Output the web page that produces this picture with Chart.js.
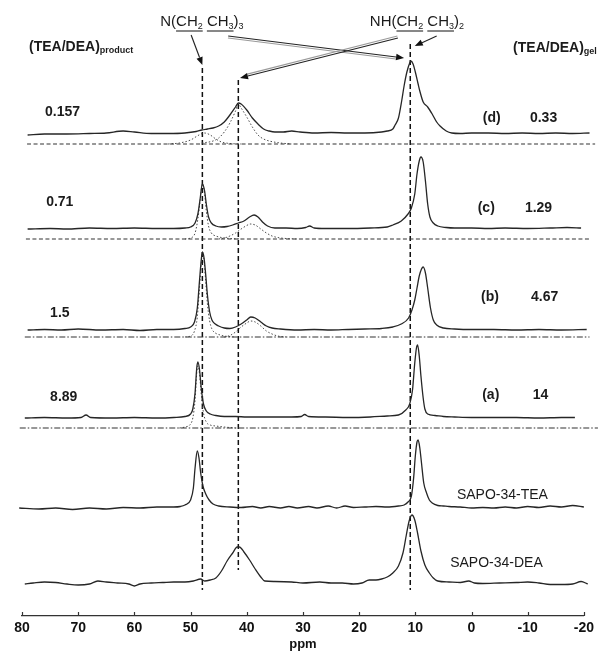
<!DOCTYPE html>
<html>
<head>
<meta charset="utf-8">
<script src="https://cdn.jsdelivr.net/npm/chart.js@4.4.1/dist/chart.umd.min.js"></script>
<style>
  html, body { margin: 0; padding: 0; background: #fff; }
  canvas { display: block; }
</style>
</head>
<body>
<canvas id="nmr" width="598" height="652"></canvas>
<script>
// 13C MAS NMR spectra of SAPO-34 samples, chemical shift (ppm) vs. intensity.
// Each trace is a list of [ppm, intensity] pairs; intensity is above its own baseline.

const ppmTicks = [80, 70, 60, 50, 40, 30, 20, 10, 0, -10, -20];

// Reference shifts of the amine carbons
const markerShifts = [47.9, 41.5, 10.9];

// (d) measured spectrum
const specD = [[79,-1],[76,0],[72,0],[68,0.5],[65,1],[62,3],[60,2],[57,0.5],[54,0.5],[51,1],[49,2.5],[48,4],[47,5],[46,6],[45,8],[44,12],[43,19],[42,27],[41.5,31],[41,30],[40,24],[39,16],[38,10],[37,5],[36,3],[35,2],[33.5,2],[32,3],[30.5,2],[28,1],[25,1.5],[22,1],[19,1],[16,2],[15,3],[14,5],[13.6,9],[13,16],[12.4,34],[12,48],[11.5,62],[11,71],[10.8,73],[10.4,70],[10,62],[9.5,50],[9.2,43],[8.6,32],[7.8,27],[7,20],[6.2,12],[5.6,8],[4.5,3],[3.5,1],[2,0.5],[0,1],[-3,1],[-6,0.5],[-9,1],[-12,0.5],[-15,1],[-18,0.5],[-21,1]];
// (d) fitted components
const fitD1 = [[54,0],[52,1],[50,4],[48.5,9],[47.5,11],[46.5,9],[45.5,5],[44.5,2],[43,0.5],[41,0]];
const fitD2 = [[48,1],[46,3],[45,6],[44,12],[43,21],[42,33],[41.5,40],[41,36],[40,27],[39,17],[38,9],[37,5],[36,3],[34,1],[32,0]];

// (c)
const specC = [[79,0],[75,0.5],[72,0],[68,1],[64,0.5],[60,1],[56,0.5],[53,0.5],[51,1],[50,2],[49.2,6],[48.7,15],[48.3,30],[47.9,45],[47.5,38],[47.2,25],[46.8,12],[46.3,6],[45.5,3],[44.5,2],[43.5,2.5],[42.5,4],[41.5,6],[40.5,8],[39.5,12],[38.7,14],[38,12],[37.2,7],[36.3,3],[35,1],[33,1],[31,0.5],[29.5,1.5],[28.8,3],[28,1],[26,0.5],[22,0.5],[18,1],[15,2],[14,4],[12.5,8],[11.3,15],[10.7,21],[10.1,35],[9.7,55],[9.3,68],[9,72],[8.6,67],[8.2,48],[7.8,25],[7.4,12],[6.8,6],[6,3],[4.5,1.5],[3,1],[0,1],[-3,0.5],[-6,1],[-10,0.5],[-14,1],[-17,1.5],[-19.5,1]];
const fitC1 = [[51,0],[50,1],[49.2,6],[48.7,20],[48.3,38],[47.9,55],[47.5,45],[47.2,28],[46.8,13],[46.3,6],[45.5,3],[44.5,1.5],[43,0.5],[41,0]];
const fitC2 = [[45,0],[44,1],[43,3],[42,6],[41,10],[40,13.5],[39.4,15],[38.5,14],[37.5,10],[36.5,6],[35.5,3],[34.5,1.5],[33,0.5],[31,0]];

// (b)
const specB = [[79,0],[76,0.5],[73,0],[70,1],[66,0],[62,0.5],[59,-0.5],[56,0.5],[53,0.5],[51,1.5],[50,3],[49.3,8],[48.8,22],[48.4,50],[48.1,70],[47.9,78],[47.6,72],[47.3,55],[47,35],[46.6,18],[46.2,10],[45.6,6],[45,4],[44,2],[43,1.5],[42,3],[41,6],[40,10],[39.3,13],[38.5,12],[37.5,8],[36.5,4],[35.5,2],[34,1],[31,0],[28,0.5],[25,0],[22,0.5],[19,1],[16,1.5],[14,3],[12.5,6],[11.2,12],[10.6,20],[10.1,30],[9.7,42],[9.3,54],[8.9,61],[8.6,63],[8.2,57],[7.8,42],[7.3,22],[6.8,10],[6.2,5],[5,2],[3,1],[0,0.5],[-4,0.5],[-8,0],[-12,0.5],[-16,0],[-20.5,0.5]];
const fitB1 = [[51,0],[50,1],[49.3,6],[48.8,20],[48.4,50],[48.1,72],[47.9,85],[47.6,76],[47.3,55],[47,33],[46.6,16],[46.2,8],[45.6,4],[45,2.5],[44,1],[42,0]];
const fitB2 = [[44,0],[43,1.5],[42,5],[41,10],[40,14],[39.3,16],[38.5,15],[37.5,11],[36.5,6],[35.5,3],[34.5,1],[33,0]];

// (a)
const specA = [[79.5,0],[76,0.5],[72,0],[69.5,0.5],[68.6,3],[67.8,0.5],[64,0],[60,0.5],[56,0],[53,0.5],[51,1.5],[50,4],[49.6,9],[49.2,25],[48.9,50],[48.7,56],[48.4,48],[48.1,30],[47.7,14],[47.2,7],[46.5,4],[45.5,2.5],[44,1.5],[42,1.5],[40,1],[36,1],[32,1],[30.3,1.5],[29.7,3.5],[29,1.5],[26,1],[22,0.5],[18,1],[15,2],[13,3],[11.7,8],[11,14],[10.5,28],[10.1,55],[9.8,70],[9.6,73],[9.3,62],[9,42],[8.6,20],[8.3,9],[7.8,4],[6.5,2.5],[5,1.5],[3,1],[0,0.5],[-4,0.5],[-8,0.5],[-12,0],[-16,0.5],[-18.4,0.5]];
const fitA1 = [[52,0],[51,1],[50,4],[49.6,10],[49.2,28],[48.9,55],[48.7,62],[48.4,54],[48.1,34],[47.7,15],[47.2,6],[46.5,3],[45.5,2],[44,1],[42,0]];

// SAPO-34 templated by triethylamine only
const specTEA = [[80.5,0],[77,-1],[74,0],[71,-1.5],[68,0],[65,-1],[62,0.5],[59,0],[56,1],[53,1],[51.8,1.5],[51,3],[50,8],[49.5,20],[49.2,40],[48.8,57],[48.5,50],[48.2,35],[47.8,22],[47.3,14],[46.7,8],[46,4],[45,2],[43,1],[41,0.5],[39,1.5],[37.5,0],[36,1.5],[34,0],[32.5,1.5],[31,0],[29,1.5],[27.5,0],[25.5,2],[24,0],[22.5,2],[21,0.5],[19,1],[17,1.5],[15,1],[13,2],[12,3],[11.3,6],[10.7,12],[10.3,30],[10,52],[9.7,66],[9.5,68],[9.2,60],[8.9,45],[8.5,25],[8,15],[7.5,8],[7,5],[6,2.5],[5,2],[4,1.5],[2,1],[0,0],[-2,0.5],[-4,0],[-6,1],[-8,0],[-10,1.5],[-12,0.5],[-14,2],[-16,1],[-18,2.5],[-20,1]];

// SAPO-34 templated by diethylamine only
const specDEA = [[79.5,-1],[78,0],[76,1],[74,0.5],[72,-1],[70,-2],[68,-1],[66.5,2],[65,1],[63,0],[61,-1],[60,-3],[59,-1],[57,0],[55,0.5],[53,1],[51,1],[49.5,2],[48.2,4],[47.5,2],[46.5,3],[45.5,5],[44.5,12],[43.5,22],[42.5,30],[41.7,36],[41.3,36],[40.5,31],[39.5,23],[38.5,14],[37.5,6],[36.8,2],[35,1.5],[32,1],[30,0],[27,1],[25,0],[23,0],[21,-1],[19.5,0],[18.2,3],[17,3],[16,4],[15,6],[14,10],[13,17],[12.2,30],[11.6,48],[11.1,62],[10.6,68],[10.1,63],[9.6,50],[9,32],[8.3,18],[7.5,10],[6.8,5],[6,2],[4,1],[2,0.5],[0.5,2],[-0.5,0],[-2,-0.5],[-5,0],[-8,0.5],[-10,1],[-12,0],[-14,-1.5],[-16,-1.5],[-18,-1],[-19.5,1.5],[-20.7,-1]];

// Extent of the fitted baselines
const fitSpanD = [[79.1,0],[-22,0]];
const fitSpanC = [[79.3,0],[-21,0]];
const fitSpanB = [[79.5,0],[-21,0]];
const fitSpanA = [[80.4,0],[-22.5,0]];

// Ratio annotations
const ratioProduct = ['0.157', '0.71', '1.5', '8.89'];
const sampleTags = ['(d)', '(c)', '(b)', '(a)'];
const ratioGel = ['0.33', '1.29', '4.67', '14'];
const refNames = ['SAPO-34-TEA', 'SAPO-34-DEA'];

// ---- layout of the stacked plot (vertical offsets in axis units) ----
const Y_MAX = 606;
const offsets = { d: 482, dFit: 472, c: 387, cFit: 377, b: 286, bFit: 279, a: 198, aFit: 188, tea: 108, dea: 33 };

const FONT = '"Liberation Sans", Arial, Helvetica, sans-serif';
const INK = '#1b1b1b';

const solid = { borderColor: '#262626', borderWidth: 1.3, cubicInterpolationMode: 'monotone' };
const dotted = { borderColor: '#4a4a4a', borderWidth: 1, borderDash: [1.5, 2], cubicInterpolationMode: 'monotone' };
const dashed = { borderColor: '#333', borderWidth: 1.1, borderDash: [4, 2.5] };
const dashDot = { borderColor: '#333', borderWidth: 1.1, borderDash: [6, 2, 1.5, 2] };

function trace(pairs, offset, style) {
  return Object.assign({
    data: pairs.map(([x, v]) => ({ x, y: v + offset })),
    pointRadius: 0, fill: false, clip: false
  }, style);
}

// vertical marker lines (top/bottom in axis units)
const markerSpans = [[548, 26], [536, 46], [572, 26]];
function marker(ppm, span) {
  return {
    data: [{ x: ppm, y: span[0] }, { x: ppm, y: span[1] }],
    borderColor: '#111', borderWidth: 1.5, borderDash: [5, 3],
    pointRadius: 0, fill: false, clip: false
  };
}

const datasets = [
  trace(specD, offsets.d, solid),
  trace(fitSpanD, offsets.dFit, dashed),
  trace(fitD1, offsets.dFit, dotted),
  trace(fitD2, offsets.dFit, dotted),
  trace(specC, offsets.c, solid),
  trace(fitSpanC, offsets.cFit, dashed),
  trace(fitC1, offsets.cFit, dotted),
  trace(fitC2, offsets.cFit, dotted),
  trace(specB, offsets.b, solid),
  trace(fitSpanB, offsets.bFit, dashDot),
  trace(fitB1, offsets.bFit, dotted),
  trace(fitB2, offsets.bFit, dotted),
  trace(specA, offsets.a, solid),
  trace(fitSpanA, offsets.aFit, dashDot),
  trace(fitA1, offsets.aFit, dotted),
  trace(specTEA, offsets.tea, solid),
  trace(specDEA, offsets.dea, solid),
  ...markerShifts.map((p, i) => marker(p, markerSpans[i]))
];

// ---- annotation helpers ----
function drawRuns(ctx, x, y, runs, size, weight) {
  const segs = [];
  let cx = x;
  for (const r of runs) {
    const fs = r.s ? Math.round(size * 0.62) : size;
    ctx.font = `${weight} ${fs}px ${FONT}`;
    const w = ctx.measureText(r.t).width;
    ctx.fillText(r.t, cx, r.s ? y + size * 0.28 : y);
    if (r.u) segs.push([cx, cx + w]);
    cx += w;
  }
  return segs;
}

function drawArrow(ctx, x1, y1, x2, y2, double) {
  const a = Math.atan2(y2 - y1, x2 - x1);
  const head = 8, half = 3.2;
  const bx = x2 - head * Math.cos(a), by = y2 - head * Math.sin(a);
  const nx = -Math.sin(a), ny = Math.cos(a);
  ctx.lineWidth = 1.1;
  if (double) {
    ctx.strokeStyle = '#9a9a9a';
    ctx.beginPath();
    ctx.moveTo(x1 + nx * 2, y1 + ny * 2);
    ctx.lineTo(bx + nx * 2, by + ny * 2);
    ctx.stroke();
  }
  ctx.strokeStyle = '#222';
  ctx.beginPath();
  ctx.moveTo(x1, y1);
  ctx.lineTo(bx, by);
  ctx.stroke();
  ctx.fillStyle = '#111';
  ctx.beginPath();
  ctx.moveTo(x2, y2);
  ctx.lineTo(bx + nx * half, by + ny * half);
  ctx.lineTo(bx - nx * half, by - ny * half);
  ctx.closePath();
  ctx.fill();
}

// annotation anchors in axis units [ppm, y]
const leftLabelPos = [[75.9, 504], [75.7, 414], [75.0, 303], [75.0, 219]];
const tagPos = [[-2.0, 498], [-1.1, 408], [-1.7, 319], [-1.9, 221]];
const gelPos = [[-10.4, 498], [-9.5, 408], [-10.6, 319], [-10.9, 221]];
const refPos = [[2.6, 121], [3.8, 53]];
const arrows = [
  { from: [49.9, 581], to: [47.9, 551], double: false },
  { from: [43.3, 580], to: [12.0, 558], double: true },
  { from: [13.1, 578], to: [41.2, 538], double: true },
  { from: [6.2, 580], to: [10.1, 570], double: false }
];

const notes = {
  id: 'notes',
  afterDraw(chart) {
    const { ctx, scales: { x, y } } = chart;
    const px = v => x.getPixelForValue(v);
    const py = v => y.getPixelForValue(v);
    ctx.save();

    // small upward tick marks on the ppm axis
    ctx.strokeStyle = '#333';
    ctx.lineWidth = 1.2;
    const base = chart.chartArea.bottom;
    for (const t of ppmTicks) {
      const tx = Math.round(px(t)) + 0.5;
      ctx.beginPath();
      ctx.moveTo(tx, base);
      ctx.lineTo(tx, base - 4);
      ctx.stroke();
    }

    ctx.fillStyle = INK;
    ctx.textBaseline = 'middle';
    ctx.textAlign = 'left';

    ctx.font = `bold 14px ${FONT}`;
    ratioProduct.forEach((t, i) => ctx.fillText(t, px(leftLabelPos[i][0]), py(leftLabelPos[i][1])));
    sampleTags.forEach((t, i) => ctx.fillText(t, px(tagPos[i][0]), py(tagPos[i][1])));
    ratioGel.forEach((t, i) => ctx.fillText(t, px(gelPos[i][0]), py(gelPos[i][1])));

    ctx.font = `14px ${FONT}`;
    refNames.forEach((t, i) => ctx.fillText(t, px(refPos[i][0]), py(refPos[i][1])));

    // column headings
    drawRuns(ctx, px(78.75), py(569), [{ t: '(TEA/DEA)' }, { t: 'product', s: 1 }], 14, 'bold');
    drawRuns(ctx, px(-7.4), py(568), [{ t: '(TEA/DEA)' }, { t: 'gel', s: 1 }], 14, 'bold');

    // amine formulas with the carbon groups underlined
    const ulY = py(585);
    ctx.strokeStyle = '#111';
    ctx.lineWidth = 1;
    const teaSegs = drawRuns(ctx, px(55.4), py(594),
      [{ t: 'N(' }, { t: 'CH', u: 1 }, { t: '2', s: 1, u: 1 }, { t: ' ' }, { t: 'CH', u: 1 }, { t: '3', s: 1, u: 1 }, { t: ')' }, { t: '3', s: 1 }], 15, 'normal');
    const deaSegs = drawRuns(ctx, px(18.1), py(594),
      [{ t: 'NH(' }, { t: 'CH', u: 1 }, { t: '2', s: 1, u: 1 }, { t: ' ' }, { t: 'CH', u: 1 }, { t: '3', s: 1, u: 1 }, { t: ')' }, { t: '2', s: 1 }], 15, 'normal');
    const mergeSegs = segs => {
      const out = [];
      segs.forEach(s => {
        const last = out[out.length - 1];
        if (last && Math.abs(last[1] - s[0]) < 0.5) last[1] = s[1]; else out.push([s[0], s[1]]);
      });
      return out;
    };
    [...mergeSegs(teaSegs), ...mergeSegs(deaSegs)].forEach(([a, b]) => {
      ctx.beginPath();
      ctx.moveTo(a, ulY);
      ctx.lineTo(b, ulY);
      ctx.stroke();
    });

    arrows.forEach(ar => drawArrow(ctx, px(ar.from[0]), py(ar.from[1]), px(ar.to[0]), py(ar.to[1]), ar.double));
    ctx.restore();
  }
};

new Chart(document.getElementById('nmr'), {
  type: 'line',
  data: { datasets },
  options: {
    responsive: false,
    animation: false,
    devicePixelRatio: 1,
    layout: { padding: { left: 22, right: 14, top: 10, bottom: 0 } },
    plugins: { legend: { display: false }, tooltip: { enabled: false } },
    elements: { point: { radius: 0 } },
    scales: {
      x: {
        type: 'linear',
        reverse: true,
        min: -20,
        max: 80,
        afterBuildTicks: s => { s.ticks = ppmTicks.map(v => ({ value: v })); },
        afterFit: s => { s.height = 36; },
        grid: { display: true, drawOnChartArea: false, drawTicks: false },
        border: { display: true, color: '#333', width: 1.3 },
        ticks: {
          color: '#111',
          padding: 4,
          maxRotation: 0,
          font: { family: FONT, size: 14, weight: 'bold' },
          callback: v => String(v)
        },
        title: {
          display: true,
          text: 'ppm',
          color: '#111',
          padding: 0,
          font: { family: FONT, size: 13, weight: 'bold' }
        }
      },
      y: { type: 'linear', display: false, min: 0, max: Y_MAX }
    }
  },
  plugins: [notes]
});
</script>
</body>
</html>
